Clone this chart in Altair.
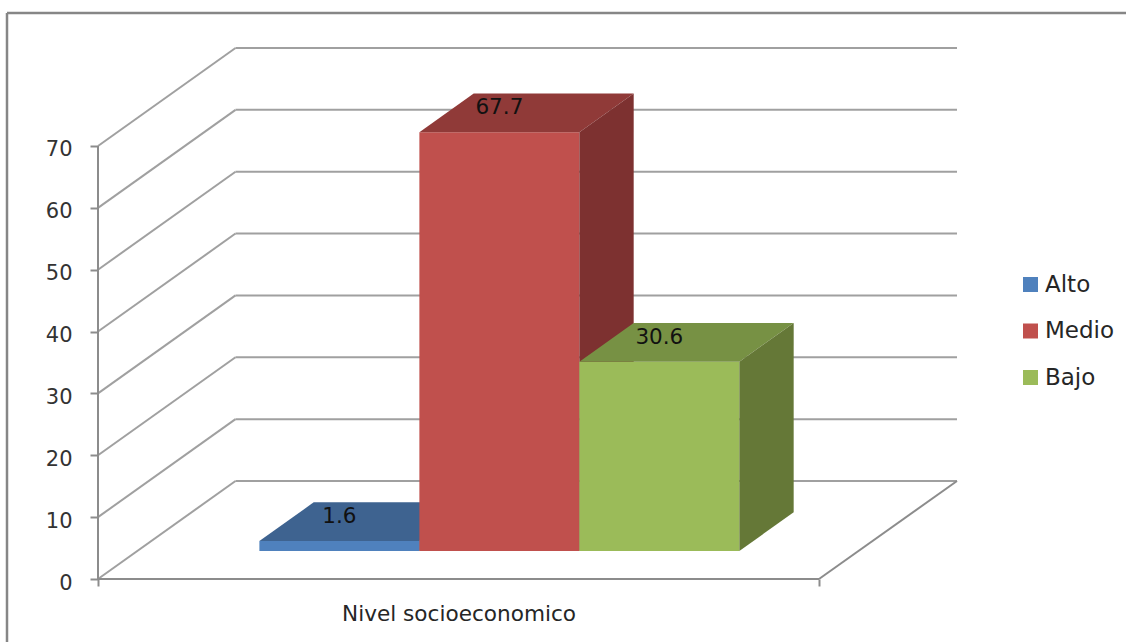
import altair as alt
import pandas as pd

# Series and values of the chart
series = ["Alto", "Medio", "Bajo"]
values = [1.6, 67.7, 30.6]
category = "Nivel socioeconomico"
y_ticks = [0, 10, 20, 30, 40, 50, 60, 70]

front_colors = ["#4F81BD", "#C0504D", "#9BBB59"]
top_colors = ["#3E6390", "#903A38", "#779144"]
side_colors = ["#35547A", "#7D3130", "#657837"]

GRID = "#A0A0A0"
AXIS = "#8C8C8C"
FRAME = "#868686"
FONT = "DejaVu Sans"

# Oblique projection, expressed in axis units.
PX_PER_X = 721.0   # pixels for one category width
PX_PER_Y = 6.186   # pixels for one value unit
PLOT_W, PLOT_H = 859, 532
DEPTH_X = 137.5 / PX_PER_X   # horizontal shift of the back wall
DEPTH_Y = 98.0 / PX_PER_Y    # vertical shift of the back wall
NEAR = 0.286                 # where the bars start along the depth
BAR_DEPTH = 0.395            # how deep the bars are
GAP = 0.1693
BAR_W = 0.2219

x_scale = alt.Scale(domain=[0, PLOT_W / PX_PER_X], nice=False, zero=False)
y_scale = alt.Scale(domain=[0, PLOT_H / PX_PER_Y], nice=False, zero=False)
color_scale = alt.Scale(domain=series, range=front_colors)
X_END = PLOT_W / PX_PER_X

# Every layer shares these axes, so they survive the layer merge
x_axis = alt.Axis(
    values=[0, 0.5, 1],
    domain=False,
    grid=False,
    title=None,
    tickSize=7,
    tickWidth=2,
    tickColor=AXIS,
    tickOpacity=alt.expr("datum.value == 0.5 ? 0 : 1"),
    labelExpr=f"datum.value == 0.5 ? '{category}' : ''",
    labelFont=FONT,
    labelFontSize=21.6,
    labelColor="#262626",
    labelPadding=17,
    labelLimit=400,
    labelOverlap=False,
    labelFlush=False,
)
y_axis = alt.Axis(
    values=y_ticks,
    domain=False,
    grid=False,
    title=None,
    tickSize=8,
    tickWidth=2,
    tickColor=AXIS,
    labelFont=FONT,
    labelFontSize=21,
    labelColor="#333333",
    labelPadding=18,
    labelOffset=4,
)
X = alt.X("x:Q", scale=x_scale, axis=x_axis)
Y = alt.Y("y:Q", scale=y_scale, axis=y_axis)


def rule_layer(rows, color, width):
    frame = pd.DataFrame(rows, columns=["x", "x2", "y", "y2"])
    return alt.Chart(frame).mark_rule(color=color, strokeWidth=width).encode(
        x=X, x2="x2:Q", y=Y, y2="y2:Q"
    )


# Side wall and back wall gridlines, one pair for each tick
wall_rows = []
for v in y_ticks:
    wall_rows.append((0, DEPTH_X, v, v + DEPTH_Y))
    wall_rows.append((DEPTH_X, X_END, v + DEPTH_Y, v + DEPTH_Y))
walls = rule_layer(wall_rows, GRID, 2)

# Floor edges and the vertical value axis line
edges = rule_layer(
    [(0, 1, 0, 0), (1, X_END, 0, DEPTH_Y), (0, 0, 0, y_ticks[-1])], AXIS, 2
)

bar_layers = []
for i, (name, value) in enumerate(zip(series, values)):
    xl = GAP + NEAR * DEPTH_X + i * BAR_W
    xr = xl + BAR_W
    yb = NEAR * DEPTH_Y
    yt = yb + value
    dx = BAR_DEPTH * DEPTH_X
    dy = BAR_DEPTH * DEPTH_Y

    front = pd.DataFrame(
        {"series": [name], "x": [xl], "x2": [xr], "y": [yb], "y2": [yt]}
    )
    bar_layers.append(
        alt.Chart(front).mark_rect().encode(
            x=X,
            x2="x2:Q",
            y=Y,
            y2="y2:Q",
            color=alt.Color(
                "series:N",
                scale=color_scale,
                legend=alt.Legend(
                    orient="none",
                    legendX=921,
                    legendY=226,
                    title=None,
                    symbolType="square",
                    symbolSize=225,
                    symbolStrokeWidth=0,
                    labelFont=FONT,
                    labelFontSize=23,
                    labelColor="#262626",
                    labelOffset=3,
                    rowPadding=22.5,
                ),
            ),
        )
    )

    top = pd.DataFrame(
        {"y": [yt, yt + dy], "x": [xl, xl + dx], "x2": [xr, xr + dx]}
    )
    bar_layers.append(
        alt.Chart(top).mark_area(orient="horizontal", color=top_colors[i]).encode(
            y=Y, x=X, x2="x2:Q"
        )
    )

    side = pd.DataFrame(
        {"x": [xr, xr + dx], "y": [yb, yb + dy], "y2": [yt, yt + dy]}
    )
    bar_layers.append(
        alt.Chart(side).mark_area(orient="vertical", color=side_colors[i]).encode(
            x=X, y=Y, y2="y2:Q"
        )
    )

# Value labels sit on the top face of each bar
label_frame = pd.DataFrame(
    {
        "x": [GAP + NEAR * DEPTH_X + (i + 0.5) * BAR_W for i in range(len(series))],
        "y": [NEAR * DEPTH_Y + v + 0.62 * BAR_DEPTH * DEPTH_Y for v in values],
        "label": [str(v) for v in values],
    }
)
labels = alt.Chart(label_frame).mark_text(
    font=FONT, fontSize=21.5, color="#111111", baseline="middle", align="center"
).encode(x=X, y=Y, text="label:N")

# Outer frame of the chart area, running off the right and bottom edges
frame_top = alt.Chart(pd.DataFrame({"a": [0]})).mark_rule(
    color=FRAME, strokeWidth=2.5
).encode(x=alt.value(-91), x2=alt.value(1030), y=alt.value(-34))
frame_left = alt.Chart(pd.DataFrame({"a": [0]})).mark_rule(
    color=FRAME, strokeWidth=2.5
).encode(x=alt.value(-91), y=alt.value(-34), y2=alt.value(597))

chart = alt.layer(
    frame_top, frame_left, walls, edges, *bar_layers, labels
).properties(
    width=PLOT_W,
    height=PLOT_H,
    padding={"left": 98, "top": 47, "right": 169, "bottom": 63},
    autosize=alt.AutoSizeParams(type="none"),
    background="white",
).configure_view(stroke=None)

chart.save("out.html", embed_options={"renderer": "svg", "actions": False})
